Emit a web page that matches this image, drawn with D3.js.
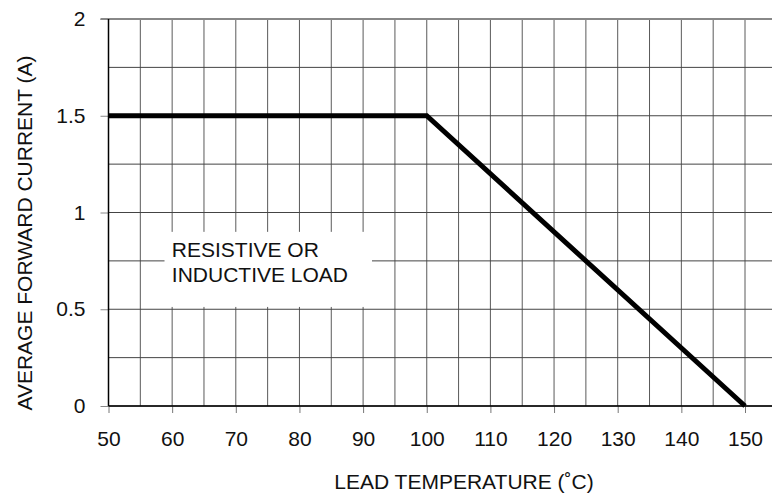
<!DOCTYPE html>
<meta charset="utf-8">
<style>
body { margin: 0; background: #fff; }
text { font-family: Arial, "Liberation Sans", sans-serif; fill: #111; }
</style>
<svg width="772" height="496"></svg>
<script src="https://d3js.org/d3.v7.min.js"></script>
<script>

// data
var tempC = [50, 100, 150];
var currentA = [1.5, 1.5, 0];

var xTicks = [50, 60, 70, 80, 90, 100, 110, 120, 130, 140, 150];
var yTicks = [0, 0.5, 1, 1.5, 2];
var yTickLabels = ["0", "0.5", "1", "1.5", "2"];
var xGrid = d3.range(50, 160, 5);
var yGrid = d3.range(0, 2.01, 0.25);

var noteLines = ["RESISTIVE OR", "INDUCTIVE LOAD"];

var svg = d3.select("svg"),
    width = +svg.attr("width"),
    height = +svg.attr("height");

var plot_left = 108.5, plot_top = 19, plot_bottom = 406;
var font_size = "21px";

// plot goes past the right edge of the picture (to 155)
var x = d3.scaleLinear().domain([50, 155]).range([plot_left, plot_left + 105 * 6.365]);
var y = d3.scaleLinear().domain([0, 2]).range([plot_bottom, plot_top]);

var plot = svg.append("g");

// grid
plot.selectAll(".vgrid")
    .data(xGrid)
    .enter().append("line")
    .attr("x1", function(d) { return x(d); })
    .attr("x2", function(d) { return x(d); })
    .attr("y1", y(0))
    .attr("y2", y(2))
    .style("stroke", "#5a5a5a")
    .style("stroke-width", 1);

plot.selectAll(".hgrid")
    .data(yGrid)
    .enter().append("line")
    .attr("x1", plot_left)
    .attr("x2", width)
    .attr("y1", function(d) { return y(d); })
    .attr("y2", function(d) { return y(d); })
    .style("stroke", "#444")
    .style("stroke-width", 1);

// top border, a bit lighter and thicker
plot.append("line")
    .attr("x1", plot_left - 8).attr("x2", width)
    .attr("y1", y(2)).attr("y2", y(2))
    .style("stroke", "#888")
    .style("stroke-width", 2);

// white label box over the grid
plot.append("rect")
    .attr("x", x(58.8))
    .attr("y", y(0.9))
    .attr("width", x(91.4) - x(58.8))
    .attr("height", y(0.512) - y(0.9))
    .style("fill", "#fff");

plot.selectAll(".note")
    .data(noteLines)
    .enter().append("text")
    .attr("x", x(59.95))
    .attr("y", function(d, i) { return y(0.77) + i * 24.7; })
    .style("font-size", font_size)
    .text(function(d) { return d; });

// axes
var xAxis = d3.axisBottom(x).tickValues(xTicks).tickSize(7).tickPadding(18).tickFormat(d3.format("d"));
var yAxis = d3.axisLeft(y).tickValues(yTicks).tickSize(8).tickPadding(15)
    .tickFormat(function(d, i) { return yTickLabels[i]; });

var gx = svg.append("g").attr("transform", "translate(0," + plot_bottom + ")").call(xAxis);
gx.select(".domain").remove();
gx.selectAll("line").style("stroke", "#777");
gx.selectAll("text").style("font-size", font_size).style("font-family", "Arial, 'Liberation Sans', sans-serif").attr("fill", "#111");

var gy = svg.append("g").attr("transform", "translate(" + plot_left + ",0)").call(yAxis);
gy.select(".domain").remove();
gy.selectAll("line").style("stroke", "#888");
gy.selectAll("text").style("font-size", font_size).style("font-family", "Arial, 'Liberation Sans', sans-serif").attr("fill", "#111");

// frame lines
svg.append("line")
    .attr("x1", plot_left).attr("x2", plot_left)
    .attr("y1", y(2)).attr("y2", y(0))
    .style("stroke", "#000").style("stroke-width", 1.5);
svg.append("line")
    .attr("x1", plot_left).attr("x2", width)
    .attr("y1", y(0)).attr("y2", y(0))
    .style("stroke", "#000").style("stroke-width", 1.5);

// derating curve
var line = d3.line()
    .x(function(d, i) { return x(tempC[i]); })
    .y(function(d) { return y(d); });

svg.append("path")
    .datum(currentA)
    .attr("d", line)
    .style("fill", "none")
    .style("stroke", "#000")
    .style("stroke-width", 5)
    .style("stroke-linejoin", "miter");

// axis titles
svg.append("text")
    .attr("x", 464)
    .attr("y", 489)
    .attr("text-anchor", "middle")
    .style("font-size", font_size)
    .text("LEAD TEMPERATURE (\u02DAC)");

svg.append("text")
    .attr("transform", "translate(31.5,233) rotate(-90)")
    .attr("text-anchor", "middle")
    .style("font-size", font_size)
    .text("AVERAGE FORWARD CURRENT (A)");

</script>
